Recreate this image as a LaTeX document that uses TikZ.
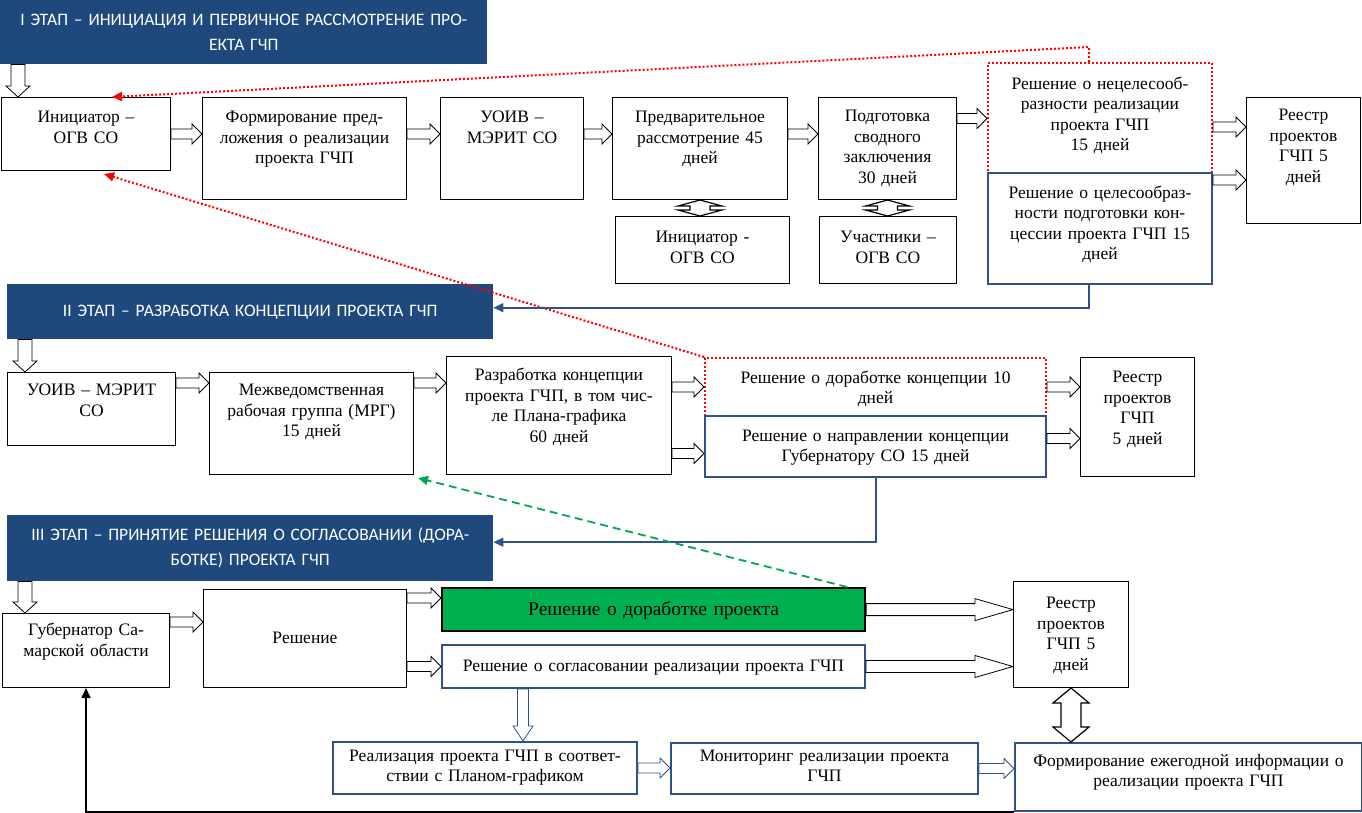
\documentclass[tikz,border=0pt]{standalone}
\usepackage{fontspec}
\setmainfont{Liberation Serif}
\newfontfamily\hdrfont{Carlito}
\usepackage{xcolor}
\usetikzlibrary{arrows.meta, positioning, calc}
\definecolor{hdrblue}{RGB}{31,73,125}
\definecolor{boxblue}{RGB}{47,82,143}
\definecolor{resgreen}{RGB}{0,176,80}
\definecolor{dashgreen}{RGB}{0,166,81}
\tikzset{
    box/.style={
        draw=black,
        line width=1pt,
        anchor=north west,
        align=center,
        inner xsep=2pt,
        inner ysep=0pt,
        font=\rmfamily\fontsize{17.5pt}{20.5pt}\selectfont,
    },
    bluebox/.style={
        box,
        draw=boxblue,
        line width=2pt,
    },
    redbox/.style={
        box,
        draw=red,
        line width=2pt,
        dash pattern=on 2pt off 2pt,
    },
    stage/.style={
        fill=hdrblue,
        text=white,
        anchor=north west,
        align=center,
        inner sep=0pt,
        font=\hdrfont\fontsize{17.5pt}{25pt}\selectfont,
    },
    harr/.style n args={3}{
        draw, fill=white, line width=0.8pt,
        to path={let \p1=(\tikztostart), \p2=(\tikztotarget) in
            (\x1,\y1+#1) -- (\x2-#3,\y1+#1) -- (\x2-#3,\y1+#2) -- (\x2,\y1)
            -- (\x2-#3,\y1-#2) -- (\x2-#3,\y1-#1) -- (\x1,\y1-#1) -- cycle},
    },
    varr/.style n args={3}{
        draw, fill=white, line width=0.8pt,
        to path={let \p1=(\tikztostart), \p2=(\tikztotarget) in
            (\x1-#1,\y1) -- (\x1-#1,\y2+#3) -- (\x1-#2,\y2+#3) -- (\x1,\y2)
            -- (\x1+#2,\y2+#3) -- (\x1+#1,\y2+#3) -- (\x1+#1,\y1) -- cycle},
    },
    udarr/.style n args={3}{
        draw, fill=white, line width=1.2pt,
        to path={let \p1=(\tikztostart), \p2=(\tikztotarget) in
            (\x1,\y1) -- (\x1+#2,\y1-#3) -- (\x1+#1,\y1-#3) -- (\x1+#1,\y2+#3)
            -- (\x1+#2,\y2+#3) -- (\x1,\y2) -- (\x1-#2,\y2+#3) -- (\x1-#1,\y2+#3)
            -- (\x1-#1,\y1-#3) -- (\x1-#2,\y1-#3) -- cycle},
    },
    rarr/.style={harr={5pt}{10pt}{10pt}},
    rarrbig/.style={harr={6pt}{11pt}{38pt}},
    darr/.style={varr={7pt}{12pt}{11pt}},
    redline/.style={draw=red, line width=2pt, dash pattern=on 2pt off 2pt},
    blueline/.style={draw=boxblue, line width=1.6pt},
    greenline/.style={draw=dashgreen, line width=1.8pt, dash pattern=on 8pt off 5pt},
}
\begin{document}
\begin{tikzpicture}[x=1pt, y=-1pt, >={Triangle[length=10pt,width=9pt]}]
          \useasboundingbox (0,0) rectangle (1362,812);

          % stage I
          \node [stage, text width=480pt, minimum width=487pt, minimum height=64pt] (hdr1) at (0,0) {I ЭТАП – ИНИЦИАЦИЯ И ПЕРВИЧНОЕ РАССМОТРЕНИЕ ПРО-\\ЕКТА ГЧП};
          \node [box, text width=165pt, text height=25pt, text depth=48pt] (ini1) at (1,97) {Инициатор –\\ОГВ СО};
          \node [box, text width=200pt, text height=25pt, text depth=77pt] (form) at (202,97) {Формирование пред-\\ложения о реализации\\проекта ГЧП};
          \node [box, text width=139pt, text height=25pt, text depth=77pt] (uoiv1) at (440,97) {УОИВ –\\МЭРИТ СО};
          \node [box, text width=171pt, text height=25pt, text depth=77pt] (pred) at (612,97) {Предварительное\\рассмотрение 45\\дней};
          \node [box, text width=134pt, text height=24pt, text depth=78pt] (podg) at (818,97) {Подготовка\\сводного\\заключения\\30 дней};
          \node [box, text width=170pt, text height=26pt, text depth=41pt] (ini2) at (615,216) {Инициатор -\\ОГВ СО};
          \node [box, text width=133pt, text height=26pt, text depth=41pt] (uch) at (819,216) {Участники –\\ОГВ СО};
          \node [redbox, text width=220pt, text height=26pt, text depth=84pt] (nets) at (987,62) {Решение о нецелесооб-\\разности реализации\\проекта ГЧП\\15 дней};
          \node [bluebox, text width=220pt, text height=25pt, text depth=86pt] (tsel) at (987,172) {Решение о целесообраз-\\ности подготовки кон-\\цессии проекта ГЧП 15\\дней};
          \node [box, text width=110pt, text height=23pt, text depth=103pt] (reestr1) at (1246,97) {Реестр\\проектов\\ГЧП 5\\дней};

          % stage II
          \node [stage, text width=476pt, minimum width=486pt, minimum height=55pt] (hdr2) at (7,284) {II ЭТАП – РАЗРАБОТКА КОНЦЕПЦИИ ПРОЕКТА ГЧП};
          \node [box, text width=164pt, text height=23pt, text depth=50pt] (uoiv2) at (7,372) {УОИВ – МЭРИТ\\СО};
          \node [box, text width=200pt, text height=23pt, text depth=79pt] (mrg) at (209,372) {Межведомственная\\рабочая группа (МРГ)\\15 дней};
          \node [box, text width=221pt, text height=24pt, text depth=94pt] (razr) at (446,356) {Разработка концепции\\проекта ГЧП, в том чис-\\ле Плана-графика\\60 дней};
          \node [redbox, text width=337pt, text height=25pt, text depth=33pt] (dor2) at (704,357) {Решение о доработке концепции 10\\дней};
          \node [bluebox, text width=337pt, text height=25pt, text depth=36pt] (napr) at (704,415) {Решение о направлении концепции\\Губернатору СО 15 дней};
          \node [box, text width=110pt, text height=25pt, text depth=94pt] (reestr2) at (1080,357) {Реестр\\проектов\\ГЧП\\5 дней};

          % stage III
          \node [stage, text width=476pt, minimum width=486pt, minimum height=66pt] (hdr3) at (7,515) {III ЭТАП – ПРИНЯТИЕ РЕШЕНИЯ О СОГЛАСОВАНИИ (ДОРА-\\БОТКЕ) ПРОЕКТА ГЧП};
          \node [box, text width=163pt, text height=22pt, text depth=52pt] (gub) at (2,613) {Губернатор Са-\\марской области};
          \node [box, text width=199pt, text height=54pt, text depth=44pt] (resh) at (203,589) {Решение};
          \node [box, line width=2.2pt, fill=resgreen, text width=419pt, text height=27pt, text depth=16pt, font=\rmfamily\fontsize{19.5pt}{23pt}\selectfont] (dorp) at (441,587) {Решение о доработке проекта};
          \node [bluebox, text width=419pt, text height=26pt, text depth=17pt] (sogl) at (441,644) {Решение о согласовании реализации проекта ГЧП};
          \node [box, text width=111pt, text height=27pt, text depth=79pt] (reestr3) at (1013,581) {Реестр\\проектов\\ГЧП 5\\дней};
          \node [bluebox, text width=300pt, text height=19pt, text depth=33pt] (real) at (332,741) {Реализация проекта ГЧП в соответ-\\ствии с Планом-графиком};
          \node [bluebox, text width=303pt, text height=18pt, text depth=33pt] (mon) at (670,742) {Мониторинг реализации проекта\\ГЧП};
          \node [bluebox, text width=343pt, text height=23pt, text depth=45pt] (ezh) at (1014,742) {Формирование ежегодной информации о\\реализации проекта ГЧП};

          % block arrows
          \draw[darr] ([xshift=18pt]hdr1.south west) to (ini1.north);
          \draw[rarr] (ini1.east) to (form.west);
          \draw[rarr] (form.east |- ini1.east) to (uoiv1.west);
          \draw[rarr] (uoiv1.east |- ini1.east) to (pred.west);
          \draw[rarr] (pred.east |- ini1.east) to (podg.west);
          \draw[rarr] ([yshift=30pt]podg.east) to (nets.west);
          \draw[rarr] ([yshift=-9pt]nets.east) to (reestr1.west);
          \draw[rarr] ([yshift=-8pt]tsel.north east) to (reestr1.west);
          \draw[udarr={10pt}{22pt}{6pt}] (pred.south) to (ini2.north);
          \draw[udarr={10pt}{22pt}{6pt}] (podg.south) to (uch.north);

          \draw[darr] ([xshift=18pt]hdr2.south west) to (uoiv2.north);
          \draw[rarr] ([yshift=-11pt]uoiv2.north east) to (mrg.west);
          \draw[rarr] ([yshift=-11pt]mrg.north east) to (razr.west);
          \draw[rarr] (razr.east |- dor2.west) to (dor2.west);
          \draw[rarr] ([yshift=-7pt]razr.east |- napr.west) to (napr.west);
          \draw[rarr] (dor2.east) to (reestr2.west);
          \draw[rarr] ([yshift=8pt]napr.east) to (reestr2.west);

          \draw[darr] ([xshift=18pt]hdr3.south west) to (gub.north);
          \draw[rarr] ([yshift=-9pt]gub.north east) to (resh.west);
          \draw[rarr] ([yshift=-9pt]resh.north east) to (dorp.west);
          \draw[rarr] (resh.east |- sogl.west) to (sogl.west);
          \draw[rarrbig] (dorp.east) to (reestr3.west);
          \draw[rarrbig] (sogl.east) to (reestr3.west);
          \draw[varr={5.5pt}{10pt}{15pt}, draw=boxblue] ([xshift=82pt]sogl.south west) to (real.north);
          \draw[rarr, draw=boxblue] (real.east) to (mon.west);
          \draw[rarr, draw=boxblue] (mon.east) to (ezh.west);
          \draw[udarr={10pt}{18pt}{15pt}] (reestr3.south) to (ezh.north);

          % feedback lines
          \draw[redline, ->] ([xshift=-11pt]nets.north) -- ++(0,-15) -- ([xshift=26pt]ini1.north);
          \draw[redline, ->] (dor2.north west) -- ([xshift=18pt,yshift=-3pt]ini1.south);
          \draw[blueline, ->] ([xshift=-11pt]tsel.south) |- ([yshift=4pt]hdr2.east);
          \draw[blueline, ->] ([xshift=0.5pt]napr.south) |- ([yshift=6pt]hdr3.east);
          \draw[greenline, ->] ([xshift=-19pt]dorp.north east) -- ([xshift=4pt,yshift=-3pt]mrg.south east);
          \draw[line width=1.6pt, ->] (ezh.south west) -| (gub.south);
\end{tikzpicture}
\end{document}
